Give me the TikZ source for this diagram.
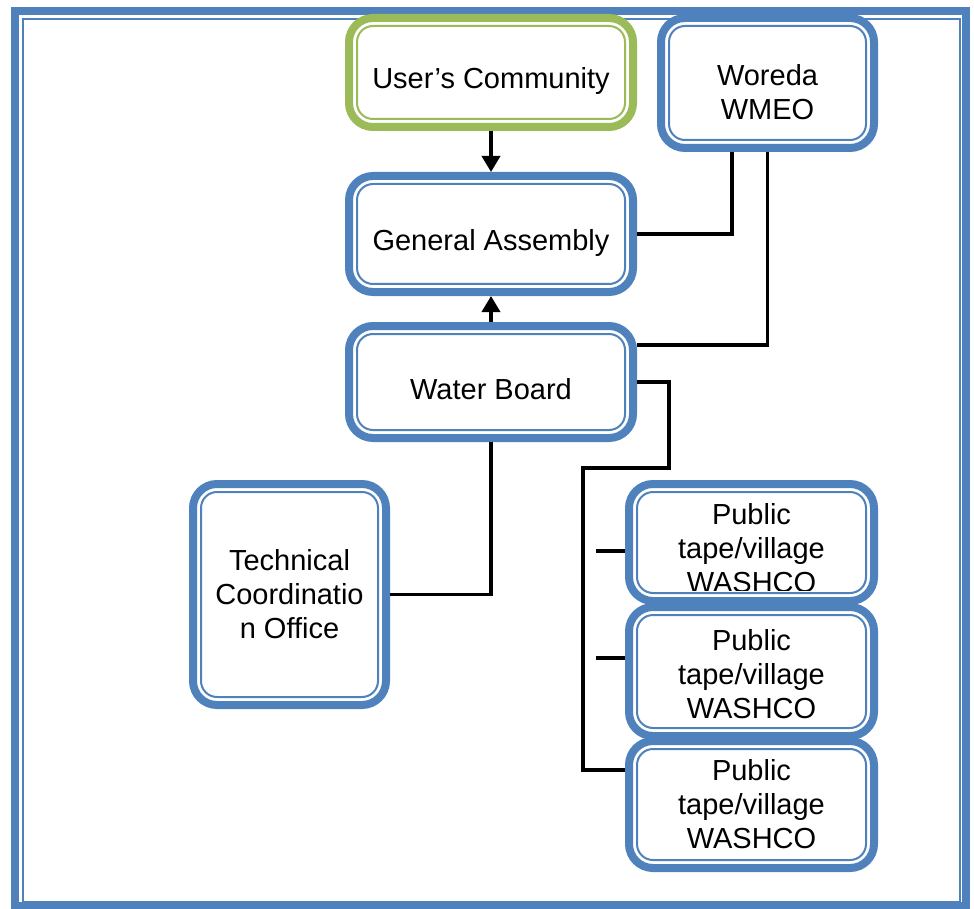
\documentclass[tikz,border=0pt]{standalone}
\usepackage{fontspec}
\setmainfont{Liberation Sans}
\usetikzlibrary{arrows.meta}
\definecolor{wmblue}{RGB}{79,129,189}
\definecolor{wmgreen}{RGB}{155,187,89}
\tikzset{orgbox/.style={rectangle, rounded corners=12pt, draw=#1, line width=4pt, fill=white, inner sep=0pt, align=center, font=\fontsize{14.5}{17}\selectfont,
  path picture={\draw[line width=1pt, draw=#1, rounded corners=8pt] ([shift={(4pt,-4pt)}]path picture bounding box.north west) rectangle ([shift={(-4pt,4pt)}]path picture bounding box.south east);}},
  orgbox/.default=wmblue}
\tikzstyle{boxtext} = [inner sep=0pt, align=center, font=\fontsize{14.5}{17}\selectfont]
\tikzstyle{link} = [line width=1.8pt]
\tikzstyle{flow} = [line width=1.8pt, -{Triangle[width=9pt,length=8pt]}]
% pushes the text of the upper boxes a little down
\newcommand{\lowtext}{\rule{0pt}{19.5pt}}

\begin{document}
\begin{tikzpicture}[x=0.5pt, y=-0.5pt]
\useasboundingbox (0,0) rectangle (974,909);
% Frame
\draw[wmblue, line width=4pt] (15,11) rectangle (966,906);
\draw[wmblue, line width=1pt] (23,19) rectangle (960,902);

% Upper boxes
\node[orgbox=wmgreen, minimum width=142pt, minimum height=54.5pt] (uc) at (491,72.5) {\lowtext User’s Community};
\node[orgbox, minimum width=106.5pt, minimum height=65pt] (wmeo) at (767.5,83) {\lowtext Woreda\\WMEO};
\node[orgbox, minimum width=142pt, minimum height=58pt] (ga) at (491,234) {\lowtext General Assembly};
\node[orgbox, minimum width=142pt, minimum height=56pt] (wb) at (491,382) {\rule{0pt}{17.5pt}Water Board};
\node[orgbox, minimum width=96.5pt, minimum height=110.5pt] (tco) at (289.5,594.5) {Technical\\Coordinatio\\n Office};

% WASHCO boxes
\node[orgbox, minimum width=122.5pt, minimum height=58.5pt] (w1) at (751.5,542.5) {};
\begin{scope}
\clip (w1.north west) rectangle ([yshift=7.5pt]w1.south east);
\node[boxtext] (w1text) at (751.5,548) {Public\\tape/village\\WASHCO};
\end{scope}
\node[orgbox, minimum width=122.5pt, minimum height=64.5pt] (w2) at (751.5,671.5) {\rule{0pt}{13.5pt}Public\\tape/village\\WASHCO};
\node[orgbox, minimum width=122.5pt, minimum height=63.5pt] (w3) at (751.5,804.5) {Public\\tape/village\\WASHCO};

% Connectors
\draw[flow] (uc) -- (ga);
\draw[flow] (wb) -- (ga);
\draw[link] ([xshift=-17.75pt]wmeo.south) |- (ga.east);
\draw[link] (wmeo.south) |- ([yshift=18.5pt]wb.east);
\draw[link] (wb.south) |- (tco.east);

\coordinate (wb_bend) at (669,468);
\coordinate (bus_top) at (583,468);
\coordinate (stub1) at (596,551);
\coordinate (stub2) at (596,658);
\draw[link] (wb.east) -| (wb_bend) -- (bus_top) |- ([yshift=17.25pt]w3.west);
\draw[link] (stub1) -- (stub1 -| w1.west);
\draw[link] (stub2) -- (stub2 -| w2.west);
\end{tikzpicture}
\end{document}
